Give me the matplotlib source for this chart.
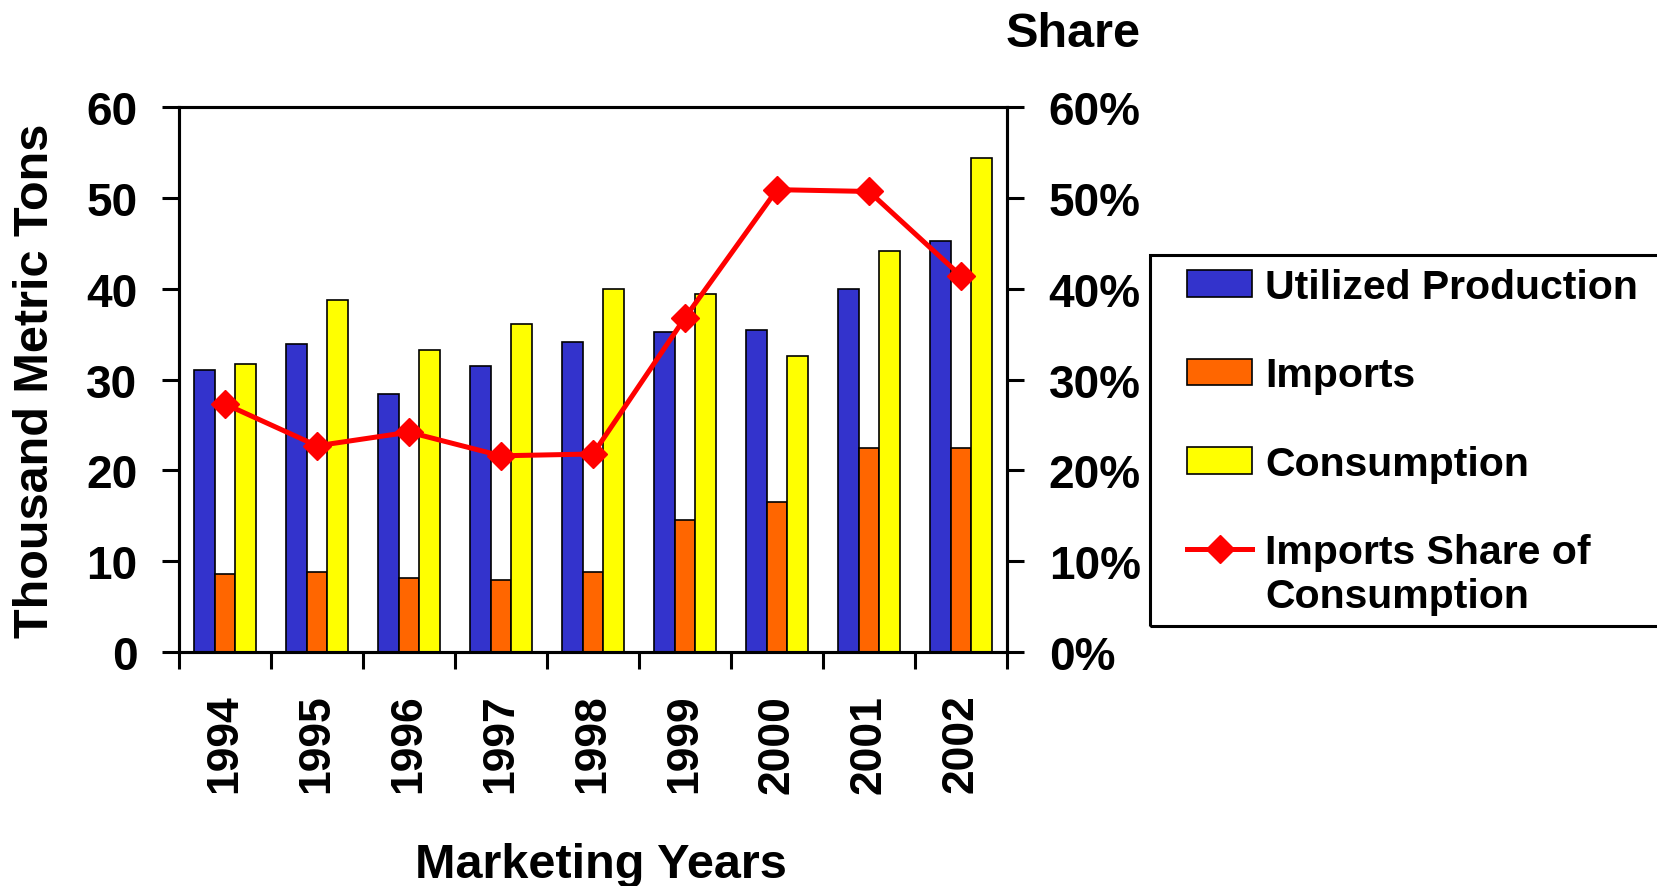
import numpy as np
import matplotlib

matplotlib.use('Agg')
import matplotlib.pyplot as plt
from matplotlib.patches import Rectangle
from matplotlib.ticker import PercentFormatter

# Data (thousand metric tons, share in %)
years = ['1994', '1995', '1996', '1997', '1998', '1999', '2000', '2001', '2002']
production = [31.0, 33.9, 28.4, 31.5, 34.1, 35.2, 35.4, 40.0, 45.2]
imports = [8.6, 8.8, 8.1, 7.9, 8.8, 14.5, 16.5, 22.5, 22.5]
consumption = [31.7, 38.8, 33.2, 36.1, 40.0, 39.4, 32.6, 44.1, 54.4]
share = [27.3, 22.7, 24.2, 21.6, 21.8, 36.8, 50.9, 50.7, 41.4]

plt.rcParams['font.family'] = ['Liberation Sans', 'DejaVu Sans']
plt.rcParams['font.weight'] = 'bold'

W, H = 1658, 887
fig = plt.figure(figsize=(W / 100, H / 100), dpi=100)
ax = fig.add_axes([179 / W, (H - 653) / H, 828 / W, 545 / H])

x = np.arange(len(years))
bw = 0.228
ax.bar(x - bw, production, bw, color='#3333CC', edgecolor='black', linewidth=1.2,
       label='Utilized Production')
ax.bar(x, imports, bw, color='#FF6600', edgecolor='black', linewidth=1.2, label='Imports')
ax.bar(x + bw, consumption, bw, color='#FFFF00', edgecolor='black', linewidth=1.2,
       label='Consumption')

ax.set_xlim(-0.5, len(years) - 0.5)
ax.set_ylim(0, 60)
ax.set_yticks(range(0, 61, 10))

# ticks on the group boundaries, labels in the middle
ax.set_xticks(np.arange(-0.5, len(years), 1))
ax.set_xticklabels([])
ax.set_xticks(x, minor=True)
ax.set_xticklabels(years, minor=True, rotation=90, fontsize=32, fontweight='bold')
ax.tick_params(axis='x', which='major', direction='out', length=12, width=2.2)
ax.tick_params(axis='x', which='minor', length=0, pad=30)
ax.tick_params(axis='y', direction='out', length=12, width=2.2, pad=18, labelsize=33)

# share line on the right axis
ax2 = ax.twinx()
ax2.plot(x, share, color='#FF0000', linewidth=3.6, marker='D', markersize=14.5,
         label='Imports Share of')
ax2.set_ylim(0, 60)
ax2.set_yticks(range(0, 61, 10))
ax2.yaxis.set_major_formatter(PercentFormatter(xmax=100, decimals=0))
ax2.tick_params(axis='y', direction='out', length=12, width=2.2, pad=18, labelsize=33)

for a in (ax, ax2):
    for s in a.spines.values():
        s.set_linewidth(2.2)

fig.text(36 / W, 1 - 381 / H, 'Thousand Metric Tons', rotation=90, ha='center',
         va='center', fontsize=35, fontweight='bold')
fig.text(601 / W, 1 - 878 / H, 'Marketing Years', ha='center', va='baseline',
         fontsize=35, fontweight='bold')
fig.text(1073 / W, 1 - 47 / H, 'Share', ha='center', va='baseline',
         fontsize=35, fontweight='bold')

# legend (frame drawn separately, it runs off the right edge)
h1, l1 = ax.get_legend_handles_labels()
h2, l2 = ax2.get_legend_handles_labels()
fig.legend(h1 + h2, l1 + l2, loc='upper left', bbox_to_anchor=(1187 / W, 1 - 269 / H),
           frameon=False, borderpad=0, borderaxespad=0, handlelength=1.59,
           handleheight=0.62, handletextpad=0.32, labelspacing=1.23,
           prop={'size': 29.5, 'weight': 'bold'})
fig.text(1265 / W, 1 - 597 / H, 'Consumption', ha='left', va='center',
         fontsize=29.5, fontweight='bold')
fig.add_artist(Rectangle((1150 / W, 1 - 627 / H), (W + 20 - 1150) / W, (627 - 256) / H,
                         transform=fig.transFigure, fill=False, edgecolor='black',
                         linewidth=2.2, clip_on=False))

fig.savefig('out.png', dpi=100)
